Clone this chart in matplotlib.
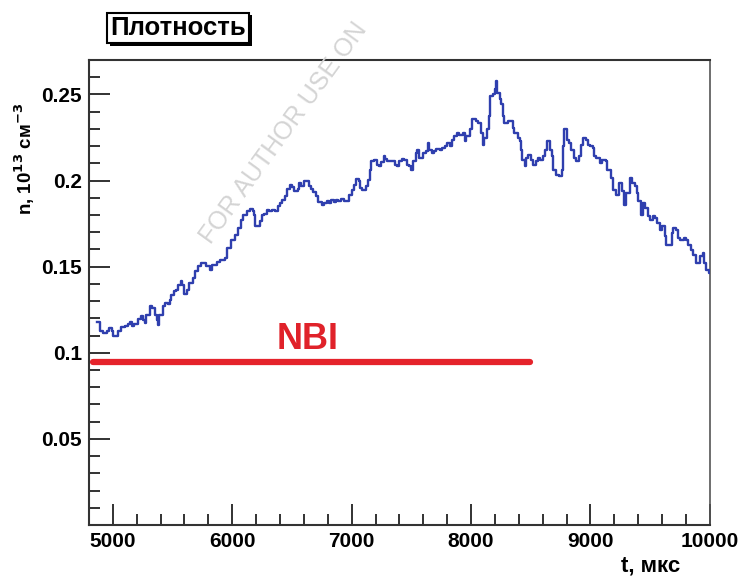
import matplotlib
matplotlib.use('Agg')
import matplotlib.pyplot as plt
import matplotlib.patheffects as pe
from matplotlib.ticker import MultipleLocator

plt.rcParams['font.family'] = ['Liberation Sans', 'DejaVu Sans']
plt.rcParams['font.weight'] = 'bold'

# Density trace, t in microseconds, n in 1e13 cm^-3
t = [4870, 4890, 4920, 4950, 4970, 4990, 5000, 5030, 5040, 5070, 5100, 5130, 5140, 5160, 5180,
     5210, 5240, 5250, 5270, 5280, 5310, 5330, 5350, 5370, 5380, 5390, 5420, 5440, 5460, 5480,
     5490, 5510, 5530, 5550, 5570, 5580, 5600, 5620, 5640, 5670, 5690, 5710, 5740, 5770, 5780,
     5810, 5830, 5870, 5900, 5940, 5960, 5990, 6020, 6050, 6070, 6090, 6120, 6150, 6170, 6180,
     6190, 6220, 6230, 6250, 6270, 6290, 6310, 6330, 6360, 6380, 6400, 6420, 6440, 6460, 6480,
     6500, 6520, 6550, 6560, 6580, 6600, 6620, 6640, 6660, 6680, 6700, 6720, 6750, 6770, 6790,
     6810, 6830, 6850, 6870, 6890, 6910, 6940, 6960, 6980, 7000, 7020, 7040, 7060, 7070, 7090,
     7120, 7140, 7150, 7160, 7190, 7210, 7230, 7250, 7270, 7280, 7300, 7330, 7360, 7380, 7400,
     7420, 7440, 7460, 7480, 7500, 7510, 7540, 7550, 7560, 7580, 7600, 7620, 7640, 7650, 7670,
     7690, 7710, 7740, 7760, 7780, 7800, 7820, 7840, 7860, 7880, 7900, 7930, 7950, 7960, 7990,
     8010, 8040, 8060, 8080, 8100, 8110, 8130, 8150, 8160, 8180, 8200, 8210, 8220, 8240, 8250,
     8270, 8280, 8310, 8340, 8350, 8360, 8390, 8410, 8420, 8430, 8450, 8460, 8480, 8500, 8520,
     8540, 8560, 8580, 8600, 8620, 8640, 8660, 8680, 8690, 8710, 8740, 8760, 8770, 8780, 8800,
     8820, 8840, 8860, 8880, 8900, 8920, 8940, 8960, 8980, 9000, 9020, 9030, 9050, 9080, 9100,
     9130, 9140, 9170, 9190, 9210, 9240, 9260, 9280, 9300, 9330, 9350, 9370, 9390, 9400, 9420,
     9440, 9460, 9480, 9500, 9520, 9540, 9560, 9580, 9600, 9620, 9630, 9660, 9680, 9690, 9720,
     9730, 9750, 9780, 9800, 9820, 9840, 9860, 9880, 9900, 9920, 9940, 9950, 9970, 9990, 10000]
n = [0.1176, 0.1124, 0.1115, 0.1124, 0.1144, 0.1124, 0.1099, 0.1095, 0.1124, 0.1147, 0.1157, 0.1169, 0.1176, 0.1153, 0.1169,
     0.1196, 0.1211, 0.1192, 0.1173, 0.1221, 0.1273, 0.1260, 0.1221, 0.1188, 0.1163, 0.1221, 0.1273, 0.1289, 0.1285, 0.1308,
     0.1337, 0.1356, 0.1366, 0.1395, 0.1415, 0.1395, 0.1343, 0.1366, 0.1405, 0.1434, 0.1473, 0.1502, 0.1522, 0.1522, 0.1502,
     0.1478, 0.1512, 0.1525, 0.1541, 0.1551, 0.1609, 0.1657, 0.1686, 0.1725, 0.1773, 0.1802, 0.1822, 0.1835, 0.1822, 0.1802,
     0.1734, 0.1734, 0.1763, 0.1802, 0.1808, 0.1831, 0.1822, 0.1831, 0.1822, 0.1851, 0.1870, 0.1890, 0.1909, 0.1952, 0.1977,
     0.1963, 0.1938, 0.1952, 0.1987, 0.1967, 0.1996, 0.1996, 0.1967, 0.1952, 0.1932, 0.1909, 0.1874, 0.1860, 0.1870, 0.1880,
     0.1870, 0.1890, 0.1874, 0.1890, 0.1880, 0.1894, 0.1880, 0.1880, 0.1919, 0.1948, 0.1977, 0.2010, 0.1996, 0.1958, 0.1948,
     0.1967, 0.2006, 0.2064, 0.2112, 0.2122, 0.2093, 0.2083, 0.2106, 0.2141, 0.2126, 0.2112, 0.2112, 0.2093, 0.2083, 0.2112,
     0.2126, 0.2122, 0.2093, 0.2083, 0.2064, 0.2112, 0.2161, 0.2180, 0.2132, 0.2132, 0.2161, 0.2170, 0.2219, 0.2180, 0.2161,
     0.2170, 0.2184, 0.2180, 0.2190, 0.2199, 0.2219, 0.2199, 0.2238, 0.2258, 0.2277, 0.2267, 0.2277, 0.2229, 0.2258, 0.2300,
     0.2355, 0.2345, 0.2335, 0.2277, 0.2209, 0.2248, 0.2297, 0.2374, 0.2490, 0.2500, 0.2529, 0.2577, 0.2510, 0.2471, 0.2442,
     0.2374, 0.2335, 0.2345, 0.2345, 0.2306, 0.2277, 0.2248, 0.2229, 0.2180, 0.2122, 0.2083, 0.2132, 0.2151, 0.2122, 0.2093,
     0.2112, 0.2132, 0.2122, 0.2145, 0.2180, 0.2229, 0.2180, 0.2141, 0.2064, 0.2035, 0.2025, 0.2064, 0.2199, 0.2297, 0.2238,
     0.2219, 0.2180, 0.2132, 0.2112, 0.2141, 0.2209, 0.2248, 0.2238, 0.2209, 0.2203, 0.2190, 0.2141, 0.2132, 0.2103, 0.2122,
     0.2112, 0.2064, 0.2016, 0.1948, 0.1919, 0.1987, 0.1938, 0.1860, 0.1928, 0.2016, 0.1987, 0.1967, 0.1928, 0.1880, 0.1802,
     0.1870, 0.1841, 0.1792, 0.1773, 0.1792, 0.1783, 0.1754, 0.1715, 0.1734, 0.1676, 0.1628, 0.1628, 0.1696, 0.1725, 0.1715,
     0.1667, 0.1657, 0.1667, 0.1657, 0.1628, 0.1599, 0.1570, 0.1522, 0.1522, 0.1560, 0.1580, 0.1522, 0.1483, 0.1463, 0.1473]

# NBI heating window
nbi_t = [4830, 8490]
nbi_level = 0.0948

fig = plt.figure(figsize=(7.41, 5.76), dpi=100)
ax = fig.add_axes([0.120, 0.0885, 0.838, 0.8073])

# faint watermark
fig.text(0.285, 0.575, 'FOR AUTHOR USE ON', rotation=54, rotation_mode='anchor',
         ha='left', va='baseline', fontsize=18, fontweight='normal', color='#d4d4d4', zorder=0)

ax.plot(t, n, drawstyle='steps-post', color='#2f3fae', lw=1.7, zorder=3)
ax.plot(nbi_t, [nbi_level, nbi_level], color='#e5232b', lw=4.5, solid_capstyle='round', zorder=2)
ax.text(6630, 0.108, 'NBI', color='#e0222a', fontsize=26, fontweight='bold', ha='center', va='center')

ax.set_xlim(4800, 10000)
ax.set_ylim(0, 0.27)
ax.xaxis.set_minor_locator(MultipleLocator(200))
ax.yaxis.set_minor_locator(MultipleLocator(0.01))
ax.set_yticks([0.05, 0.1, 0.15, 0.2, 0.25])
ax.set_yticklabels(['0.05', '0.1', '0.15', '0.2', '0.25'])
ax.set_xticks([5000, 6000, 7000, 8000, 9000, 10000])

ax.tick_params(which='both', direction='in', top=False, right=False, width=1.3, colors='#222222')
ax.tick_params(which='major', length=15, labelsize=15, pad=5)
ax.tick_params(which='minor', length=8)
for lab in ax.get_xticklabels() + ax.get_yticklabels():
    lab.set_fontweight('bold')
    lab.set_color('black')

for side in ['left', 'bottom', 'top']:
    ax.spines[side].set_linewidth(1.5)
    ax.spines[side].set_color('#333333')
ax.spines['right'].set_linewidth(1.2)
ax.spines['right'].set_color('#555555')

fig.text(0.034, 0.725, 'n, 10$^{13}$ см$^{-3}$', rotation=90, ha='center', va='center',
         fontsize=13.5, fontweight='bold')
fig.text(0.878, 0.018, 't, мкс', ha='center', va='center', fontsize=16, fontweight='bold')

title = fig.text(0.149, 0.952, 'Плотность', ha='left', va='center', fontsize=18.5, fontweight='bold',
                 bbox=dict(boxstyle='square,pad=0.12', facecolor='white', edgecolor='black', lw=1.5))
title.get_bbox_patch().set_path_effects(
    [pe.SimplePatchShadow(offset=(2, -2), shadow_rgbFace='black', alpha=1), pe.Normal()])

fig.savefig('out.png', dpi=100)
